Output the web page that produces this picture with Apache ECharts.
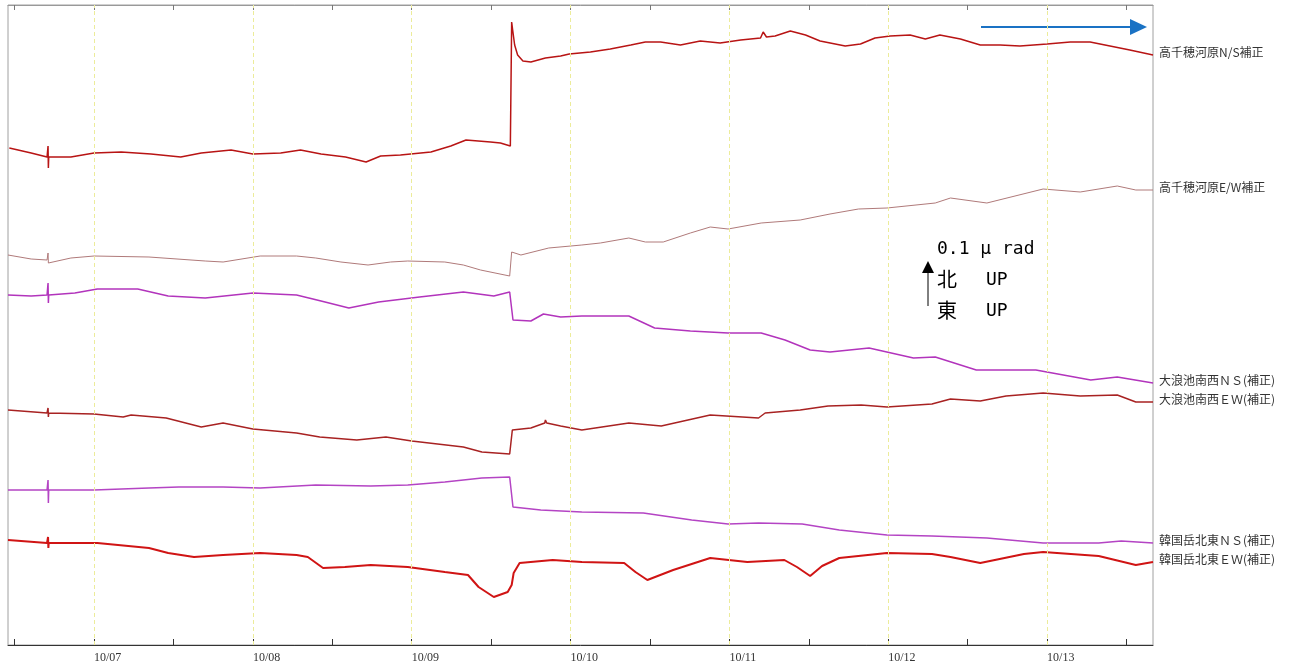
<!DOCTYPE html>
<html>
<head>
<meta charset="utf-8">
<script src="https://cdn.jsdelivr.net/npm/echarts@6/dist/echarts.min.js"></script>
<style>
  html, body { margin: 0; padding: 0; background: #fff; }
  #chart { width: 1296px; height: 670px; }
</style>
</head>
<body>
<div id="chart"></div>
<script>
(function () {
  'use strict';

  // x: hours since 10/07 00:00, y: tilt in µrad (offset per channel)
  const DAY_HOURS = [0, 24, 48, 72, 96, 120, 144];
  const DAY_LABELS = ['10/07', '10/08', '10/09', '10/10', '10/11', '10/12', '10/13'];
  const TICK_HOURS = [-12, 0, 12, 24, 36, 48, 60, 72, 84, 96, 108, 120, 132, 144, 156];

  const SERIES_NAMES = [
    '高千穂河原N/S補正',
    '高千穂河原E/W補正',
    '大浪池南西ＮＳ(補正)',
    '大浪池南西ＥＷ(補正)',
    '韓国岳北東ＮＳ(補正)',
    '韓国岳北東ＥＷ(補正)'
  ];
  const SERIES_COLORS = ['#b81414', '#b07a7a', '#b234bc', '#a82222', '#b444c4', '#d01414'];
  const SERIES_WIDTHS = [1.5, 1, 1.5, 1.5, 1.5, 2];

  const takachihoNS = [
    [-12.8, 1.2425], [-9.5, 1.230], [-7.1, 1.220], [-6.95, 1.2475], [-6.9, 1.1925], [-6.85, 1.220],
    [-3.5, 1.220], [0, 1.230], [4.1, 1.2325], [8.6, 1.2275], [13.1, 1.220], [16.2, 1.230],
    [20.7, 1.2375], [24.0, 1.2275], [28.2, 1.230], [31.2, 1.2375], [34.3, 1.2275], [38.0, 1.220],
    [41.1, 1.2075], [43.3, 1.2225], [46.3, 1.225], [50.9, 1.2325], [53.9, 1.2475], [56.2, 1.2625],
    [59.9, 1.2575], [61.4, 1.255], [62.9, 1.2475], [63.05, 1.2475], [63.1, 1.5575], [63.25, 1.5375],
    [63.55, 1.500], [64.0, 1.475], [64.8, 1.460], [66.0, 1.4575], [68.2, 1.4675], [70.5, 1.4725],
    [71.8, 1.4775], [75.0, 1.4825], [78.0, 1.490], [81.1, 1.500], [83.3, 1.5075], [85.6, 1.5075],
    [88.6, 1.500], [91.6, 1.510], [94.6, 1.505], [97.7, 1.5125], [100.7, 1.5175], [101.1, 1.5325],
    [101.6, 1.520], [102.9, 1.5225], [105.2, 1.535], [107.5, 1.525], [109.7, 1.510], [113.5, 1.4975],
    [115.8, 1.5025], [118.0, 1.5175], [120.3, 1.5225], [123.3, 1.525], [125.6, 1.515], [127.8, 1.525],
    [130.9, 1.515], [133.9, 1.500], [136.9, 1.500], [139.9, 1.4975], [144.0, 1.5025], [147.5, 1.5075],
    [150.5, 1.5075], [153.5, 1.4975], [156.5, 1.4875], [160.0, 1.475]
  ];

  const takachihoEW = [
    [-13, 0.975], [-9.5, 0.965], [-7.1, 0.9625], [-6.95, 0.980], [-6.9, 0.955], [-3.5, 0.9675],
    [0, 0.9725], [8.3, 0.970], [16.8, 0.960], [19.5, 0.9575], [25.1, 0.9725], [30.6, 0.9725],
    [33.5, 0.9675], [37.3, 0.9575], [41.4, 0.950], [44.8, 0.9575], [47.4, 0.960], [53.0, 0.9575],
    [55.8, 0.950], [58.4, 0.9375], [62.8, 0.9225], [63.05, 0.9225], [63.1, 0.9825], [64.5, 0.975],
    [68.7, 0.9925], [73.7, 1.000], [76.5, 1.005], [80.8, 1.0175], [83.3, 1.0075], [86.0, 1.0075],
    [90.1, 1.030], [93.1, 1.045], [95.8, 1.040], [100.8, 1.055], [106.7, 1.0625], [111.2, 1.0775],
    [115.5, 1.090], [119.8, 1.0925], [127.1, 1.105], [129.4, 1.1175], [134.9, 1.105], [143.4, 1.140],
    [149.0, 1.1325], [154.6, 1.1475], [157.4, 1.1375], [160.0, 1.1375]
  ];

  const ohnamiNS = [
    [-13, 0.875], [-9.5, 0.8725], [-7.1, 0.875], [-6.95, 0.905], [-6.9, 0.855], [-6.85, 0.875],
    [-2.9, 0.880], [0.5, 0.890], [6.6, 0.890], [11.2, 0.8725], [16.8, 0.8675], [24.0, 0.880],
    [30.6, 0.875], [34.3, 0.860], [38.5, 0.8425], [43.0, 0.8575], [49.2, 0.870], [55.8, 0.8825],
    [60.4, 0.8725], [62.8, 0.8825], [63.05, 0.8825], [63.3, 0.8125], [66.0, 0.810], [67.9, 0.8275],
    [70.5, 0.820], [73.7, 0.8225], [80.8, 0.8225], [84.7, 0.7925], [90.1, 0.785], [95.8, 0.780],
    [100.8, 0.780], [104.4, 0.7625], [108.2, 0.7375], [111.2, 0.7325], [117.1, 0.7425], [123.8, 0.7175],
    [127.1, 0.720], [133.3, 0.6875], [142.3, 0.6875], [150.6, 0.6625], [154.6, 0.670], [160.0, 0.655]
  ];

  const ohnamiEW = [
    [-13, 0.5875], [-7.1, 0.580], [-6.95, 0.5925], [-6.9, 0.570], [-6.85, 0.580], [0, 0.5775],
    [4.4, 0.570], [5.6, 0.575], [10.9, 0.5675], [16.2, 0.545], [19.5, 0.555], [24.0, 0.540],
    [30.6, 0.530], [34.1, 0.520], [39.7, 0.5125], [44.1, 0.520], [48.0, 0.510], [55.8, 0.495],
    [58.6, 0.4825], [62.8, 0.4775], [63.05, 0.4775], [63.2, 0.5375], [66.0, 0.5425], [68.1, 0.555],
    [68.2, 0.5625], [68.4, 0.555], [70.5, 0.5475], [73.7, 0.5375], [80.8, 0.555], [85.7, 0.5475],
    [93.1, 0.575], [100.4, 0.5675], [101.4, 0.580], [106.7, 0.5875], [110.9, 0.5975], [115.9, 0.600],
    [119.8, 0.595], [126.6, 0.6025], [129.4, 0.615], [133.9, 0.610], [137.8, 0.6225], [143.4, 0.630],
    [149.0, 0.6225], [154.6, 0.625], [157.4, 0.6075], [160.0, 0.6075]
  ];

  const karakuniNS = [
    [-13, 0.3875], [-7.1, 0.3875], [-6.95, 0.4125], [-6.9, 0.355], [-6.85, 0.3875], [0, 0.3875],
    [8.3, 0.3925], [12.8, 0.395], [19.5, 0.395], [25.1, 0.3925], [33.5, 0.400], [41.8, 0.3975],
    [47.4, 0.400], [53.0, 0.4075], [58.6, 0.4175], [62.8, 0.420], [63.05, 0.420], [63.3, 0.345],
    [67.5, 0.3375], [73.7, 0.3325], [83.0, 0.330], [90.3, 0.3125], [95.8, 0.3025], [100.4, 0.305],
    [107.0, 0.3025], [112.6, 0.2875], [119.8, 0.275], [126.6, 0.2725], [134.9, 0.2675], [143.4, 0.255],
    [151.8, 0.255], [155.2, 0.260], [160.0, 0.255]
  ];

  const karakuniEW = [
    [-13, 0.2625], [-7.1, 0.255], [-6.95, 0.270], [-6.9, 0.2425], [-6.85, 0.255], [0.5, 0.255],
    [8.3, 0.2425], [11.2, 0.230], [15.1, 0.220], [19.5, 0.225], [25.1, 0.230], [30.6, 0.225],
    [32.3, 0.220], [34.6, 0.1925], [37.9, 0.195], [41.8, 0.200], [47.4, 0.195], [53.0, 0.1825],
    [56.5, 0.175], [58.1, 0.145], [60.4, 0.120], [62.5, 0.1325], [63.1, 0.150], [63.4, 0.180],
    [64.3, 0.205], [69.3, 0.2125], [73.7, 0.2075], [80.1, 0.205], [81.8, 0.1825], [83.6, 0.1625],
    [87.5, 0.1875], [93.1, 0.2175], [98.7, 0.2075], [104.3, 0.2125], [106.2, 0.195], [108.2, 0.1725],
    [110.0, 0.1975], [112.6, 0.2175], [119.8, 0.230], [126.6, 0.2275], [129.4, 0.220], [133.9, 0.205],
    [140.5, 0.2275], [143.4, 0.2325], [151.8, 0.2225], [157.4, 0.200], [160.0, 0.2075]
  ];

  const SERIES_DATA = [takachihoNS, takachihoEW, ohnamiNS, ohnamiEW, karakuniNS, karakuniEW];

  function dayLabel(v) {
    const i = DAY_HOURS.indexOf(v);
    return i >= 0 ? DAY_LABELS[i] : '';
  }

  const series = SERIES_DATA.map(function (data, i) {
    const s = {
      name: SERIES_NAMES[i],
      type: 'line',
      data: data,
      showSymbol: false,
      silent: true,
      animation: false,
      lineStyle: { color: SERIES_COLORS[i], width: SERIES_WIDTHS[i] },
      itemStyle: { color: SERIES_COLORS[i] },
      endLabel: {
        show: true,
        formatter: '{a}',
        color: '#333',
        fontSize: 12,
        fontFamily: 'Noto Sans CJK JP',
        distance: 6,
        offset: [0, -3]
      }
    };
    if (i === 0) {
      // daily grid lines
      s.markLine = {
        silent: true,
        symbol: 'none',
        label: { show: false },
        lineStyle: { color: '#ecec9a', type: [4, 3], width: 1 },
        data: DAY_HOURS.map(function (h) { return { xAxis: h }; })
      };
    }
    return s;
  });

  const chart = echarts.init(document.getElementById('chart'));
  chart.setOption({
    backgroundColor: '#fff',
    animation: false,
    grid: {
      left: 8, right: 143, top: 5, bottom: 25,
      show: true, borderColor: '#a0a0a0', borderWidth: 1
    },
    xAxis: [
      {
        type: 'value', min: -13, max: 160, position: 'bottom',
        axisLine: { show: true, lineStyle: { color: '#333', width: 1 } },
        axisTick: { show: true, inside: true, length: 6, customValues: TICK_HOURS, lineStyle: { color: '#333' } },
        axisLabel: {
          show: true, customValues: DAY_HOURS, formatter: dayLabel,
          color: '#333', fontSize: 12, fontFamily: 'Liberation Serif',
          align: 'left', margin: 7
        },
        splitLine: { show: false }
      },
      {
        type: 'value', min: -13, max: 160, position: 'top',
        axisLine: { show: true, lineStyle: { color: '#999' } },
        axisTick: { show: true, inside: true, length: 5, customValues: TICK_HOURS, lineStyle: { color: '#777' } },
        axisLabel: { show: false },
        splitLine: { show: false }
      }
    ],
    yAxis: {
      type: 'value', min: 0, max: 1.6,
      axisLine: { show: false }, axisTick: { show: false },
      axisLabel: { show: false }, splitLine: { show: false }
    },
    series: series,
    graphic: [
      // blue direction arrow
      { type: 'line', shape: { x1: 981, y1: 27, x2: 1132, y2: 27 }, style: { stroke: '#1a72c4', lineWidth: 2 } },
      { type: 'polygon', shape: { points: [[1130, 19], [1147, 27], [1130, 35]] }, style: { fill: '#1a72c4' } },
      // scale bar
      { type: 'line', shape: { x1: 928, y1: 306, x2: 928, y2: 270 }, style: { stroke: '#000', lineWidth: 1 } },
      { type: 'polygon', shape: { points: [[922, 273], [928, 261], [934, 273]] }, style: { fill: '#000' } },
      { type: 'text', left: 937, top: 240, style: { text: '0.1 μ rad', fill: '#000', font: '18px "DejaVu Sans Mono"' } },
      { type: 'text', left: 937, top: 269, style: { text: '北', fill: '#000', font: '20px "Noto Sans CJK JP"' } },
      { type: 'text', left: 986, top: 271, style: { text: 'UP', fill: '#000', font: '18px "DejaVu Sans Mono"' } },
      { type: 'text', left: 937, top: 300, style: { text: '東', fill: '#000', font: '20px "Noto Sans CJK JP"' } },
      { type: 'text', left: 986, top: 302, style: { text: 'UP', fill: '#000', font: '18px "DejaVu Sans Mono"' } }
    ]
  });
})();
</script>
</body>
</html>
